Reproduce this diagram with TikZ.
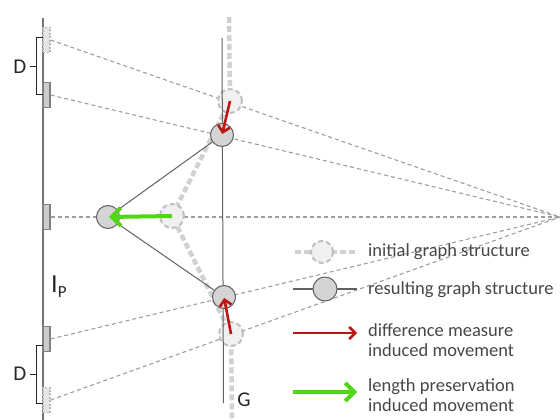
\documentclass[tikz,border=0pt]{standalone}
\usepackage{fontspec}
\setmainfont{Carlito}
\usetikzlibrary{arrows.meta}
\definecolor{redarr}{RGB}{190,20,20}
\definecolor{greenarr}{RGB}{80,215,20}
\tikzset{
  ray/.style={draw=black!38, line width=1.1pt, dash pattern=on 4pt off 3pt},
  plane/.style={draw=black!55, line width=2pt},
  pixbox/.style={rectangle, minimum width=7pt, minimum height=25pt, inner sep=0pt, fill=black!20, draw=black!50, line width=1.2pt},
  pixboxd/.style={rectangle, minimum width=7pt, minimum height=25pt, inner sep=0pt, fill=black!10, draw=black!28, line width=1.2pt, dash pattern=on 2pt off 1.5pt},
  initline/.style={draw=black!18, line width=4.5pt, dash pattern=on 6pt off 3pt},
  initnode/.style={circle, minimum size=24pt, inner sep=0pt, fill=black!6, draw=black!25, line width=2pt, dash pattern=on 5pt off 3pt},
  resline/.style={draw=black!62, line width=1pt},
  resnode/.style={circle, minimum size=23pt, inner sep=0pt, fill=black!17, draw=black!62, line width=1pt},
  redarrow/.style={draw=redarr, line width=2.6pt, -{Straight Barb[length=6pt,width=12pt]}},
  greenarrow/.style={draw=greenarr, line width=4pt, -{Straight Barb[length=9pt,width=18pt]}},
  brace/.style={draw=black!85, line width=1pt},
  lbl/.style={font=\fontsize{21}{21}\selectfont, text=black!85, inner sep=0pt},
  legtext/.style={font=\fontsize{18.5}{20.5}\selectfont, text=black!72, anchor=west, align=left, inner sep=0pt},
}
\begin{document}
\begin{tikzpicture}[x=1pt,y=-1pt]
\useasboundingbox (0,0) rectangle (560,420);
% image plane
\coordinate (pt) at (43,18);
\coordinate (pb) at (43,420);
\draw[plane] (pt) -- (pb);
% pixels
\node[pixboxd] (r1) at (46.5,40) {};
\node[pixbox] (r2) at (46.5,95) {};
\node[pixbox] (r3) at (46.5,217) {};
\node[pixbox] (r4) at (46.5,339) {};
\node[pixboxd] (r5) at (46.5,400) {};
% vanishing point
\coordinate (vp) at (560,217);
\draw[ray] (r1.east) -- (vp);
\draw[ray] (r2.east) -- (vp);
\draw[ray] (r3.east) -- (vp);
\draw[ray] (r4.east) -- (vp);
\draw[ray] (r5.east) -- (vp);
% initial structure
\coordinate (i1c) at (230,101);
\coordinate (i2c) at (172,216);
\coordinate (i3c) at (231,334);
\coordinate (it) at (229,17);
\coordinate (ib) at (232,420);
\draw[initline] (it) -- (i1c) -- (i2c) -- (i3c) -- (ib);
\node[initnode] (i1) at (i1c) {};
\node[initnode] (i2) at (i2c) {};
\node[initnode] (i3) at (i3c) {};
% resulting structure
\coordinate (gt) at (222,38);
\coordinate (gb) at (223.5,403);
\draw[resline] (gt) -- (gb);
\node[resnode] (n1) at (222,135) {};
\node[resnode] (n2) at (108,217) {};
\node[resnode] (n3) at (224,297) {};
\draw[resline] (n1) -- (n2) -- (n3);
% movements
\draw[redarrow, shorten >=1pt] (i1.center) -- (n1.center);
\draw[redarrow, shorten >=1pt] (i3.center) -- (n3.center);
\draw[greenarrow, shorten >=1pt] (i2.center) -- (n2.center);
% braces
\coordinate (b1a) at (43,38); \coordinate (b1b) at (36,38);
\coordinate (b1c) at (36,95); \coordinate (b1d) at (43,95);
\coordinate (b1m) at (36,67); \coordinate (b1t) at (30,67);
\draw[brace] (b1a) -- (b1b) -- (b1c) -- (b1d);
\draw[brace] (b1m) -- (b1t);
\node[lbl, anchor=east] (d1) at (b1t) {D\,};
\coordinate (b2a) at (43,345); \coordinate (b2b) at (36,345);
\coordinate (b2c) at (36,403); \coordinate (b2d) at (43,403);
\coordinate (b2m) at (36,374); \coordinate (b2t) at (30,374);
\draw[brace] (b2a) -- (b2b) -- (b2c) -- (b2d);
\draw[brace] (b2m) -- (b2t);
\node[lbl, anchor=east] (d2) at (b2t) {D\,};
% labels
\node[inner sep=0pt, anchor=base west, text=black!85] (ip) at (51,292) {{\fontsize{26}{26}\selectfont I}\raisebox{-5pt}{\fontsize{17}{17}\selectfont P}};
\node[lbl] (g) at (244,400) {G};
% legend
\coordinate (l1a) at (295,252); \coordinate (l1b) at (358,252);
\draw[initline, line width=3.5pt] (l1a) -- (l1b);
\node[initnode, minimum size=22pt] (l1n) at (322,252) {};
\node[legtext] (t1) at (368,252) {initial graph structure};
\coordinate (l2a) at (293,289); \coordinate (l2b) at (357,289);
\draw[resline, line width=1.5pt] (l2a) -- (l2b);
\node[resnode, minimum size=24pt] (l2n) at (325,289) {};
\node[legtext] (t2) at (368,290) {resulting graph structure};
\coordinate (l3a) at (293,333); \coordinate (l3b) at (357,333);
\draw[redarrow] (l3a) -- (l3b);
\node[legtext] (t3) at (368,340) {difference measure\\induced movement};
\coordinate (l4a) at (293,392); \coordinate (l4b) at (357,392);
\draw[greenarrow] (l4a) -- (l4b);
\node[legtext] (t4) at (368,395) {length preservation\\induced movement};
\end{tikzpicture}
\end{document}
